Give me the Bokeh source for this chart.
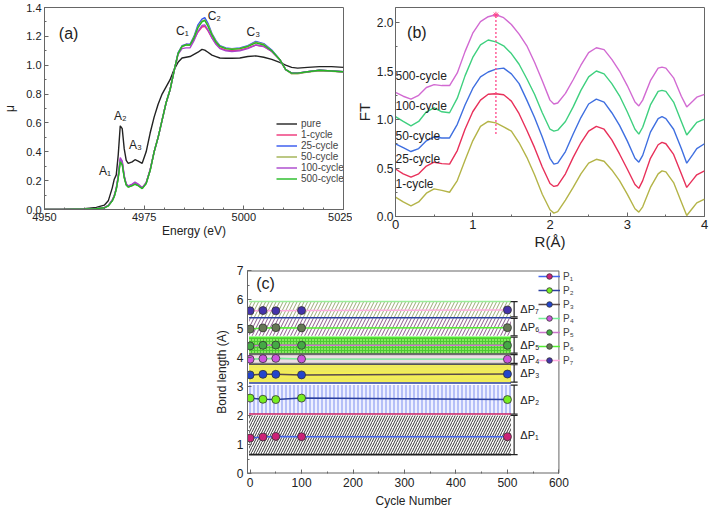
from bokeh.plotting import figure
from bokeh.layouts import column, row, Spacer
from bokeh.models import Legend, LegendItem, PrintfTickFormatter, FixedTicker
from bokeh.embed import file_html
from bokeh.resources import INLINE
from bokeh.core.properties import value

FONT = "Liberation Sans"

# ---------------- (a) XANES data ----------------
energy = [4950, 4955, 4960, 4963, 4965, 4966, 4967, 4967.5, 4968, 4968.5,
          4969, 4969.5, 4970, 4970.5, 4971, 4972, 4972.7, 4973.5, 4974.5, 4975.5,
          4976.5, 4977.5, 4978.5, 4979.5, 4980.5, 4981.5, 4982.5, 4983.5, 4984.5, 4985.5,
          4986.5, 4987.5, 4988.5, 4989.5, 4990.2, 4991, 4992, 4993, 4994, 4995.5,
          4997, 4999, 5001, 5003, 5005, 5007, 5009, 5010.5, 5012, 5013.5,
          5016, 5019, 5022, 5025]
mu_pure = [0.0, 0.002, 0.006, 0.015, 0.03, 0.06, 0.15, 0.21, 0.24, 0.38,
           0.58, 0.56, 0.42, 0.34, 0.32, 0.33, 0.345, 0.335, 0.32, 0.40,
           0.53, 0.64, 0.73, 0.80, 0.85, 0.90, 0.97, 1.02, 1.05, 1.055,
           1.06, 1.075, 1.09, 1.11, 1.105, 1.09, 1.07, 1.06, 1.05, 1.048,
           1.048, 1.05, 1.06, 1.065, 1.055, 1.04, 1.02, 1.0, 0.985, 0.98,
           0.985, 0.99, 0.99, 0.985]
mu_1 = [0.0, 0.001, 0.003, 0.006, 0.013, 0.027, 0.065, 0.095, 0.145, 0.23,
        0.35, 0.33, 0.23, 0.175, 0.16, 0.172, 0.185, 0.172, 0.15, 0.185,
        0.275, 0.40, 0.50, 0.62, 0.74, 0.83, 0.96, 1.08, 1.13, 1.145,
        1.14, 1.18, 1.23, 1.265, 1.27, 1.24, 1.19, 1.15, 1.12, 1.105,
        1.10, 1.105, 1.12, 1.14, 1.13, 1.095, 1.04, 0.97, 0.945, 0.945,
        0.955, 0.965, 0.96, 0.955]
mu_25 = [0.0, 0.001, 0.003, 0.006, 0.012, 0.026, 0.062, 0.092, 0.142, 0.225,
         0.34, 0.32, 0.225, 0.172, 0.157, 0.168, 0.18, 0.168, 0.147, 0.182,
         0.272, 0.40, 0.50, 0.62, 0.74, 0.83, 0.96, 1.085, 1.135, 1.145,
         1.145, 1.20, 1.28, 1.32, 1.33, 1.29, 1.22, 1.17, 1.135, 1.12,
         1.115, 1.12, 1.135, 1.165, 1.15, 1.105, 1.04, 0.97, 0.945, 0.945,
         0.955, 0.965, 0.96, 0.955]
mu_50 = [0.0, 0.001, 0.003, 0.006, 0.012, 0.025, 0.06, 0.09, 0.14, 0.22,
         0.335, 0.315, 0.222, 0.171, 0.156, 0.166, 0.177, 0.166, 0.146, 0.18,
         0.27, 0.40, 0.50, 0.62, 0.74, 0.83, 0.96, 1.08, 1.13, 1.14,
         1.14, 1.195, 1.265, 1.305, 1.315, 1.28, 1.215, 1.165, 1.132, 1.117,
         1.112, 1.117, 1.132, 1.16, 1.145, 1.10, 1.04, 0.97, 0.94, 0.94,
         0.952, 0.962, 0.958, 0.952]
mu_100 = [0.0, 0.001, 0.003, 0.006, 0.013, 0.028, 0.066, 0.097, 0.148, 0.235,
          0.36, 0.335, 0.235, 0.178, 0.163, 0.176, 0.19, 0.176, 0.152, 0.186,
          0.276, 0.40, 0.50, 0.62, 0.74, 0.83, 0.96, 1.075, 1.115, 1.12,
          1.12, 1.17, 1.235, 1.275, 1.28, 1.245, 1.19, 1.145, 1.115, 1.10,
          1.095, 1.10, 1.115, 1.14, 1.13, 1.095, 1.04, 0.97, 0.945, 0.945,
          0.955, 0.965, 0.96, 0.955]
mu_500 = [0.0, 0.001, 0.003, 0.006, 0.012, 0.025, 0.06, 0.09, 0.14, 0.22,
          0.33, 0.31, 0.22, 0.17, 0.155, 0.165, 0.175, 0.165, 0.145, 0.18,
          0.27, 0.40, 0.50, 0.62, 0.74, 0.83, 0.96, 1.08, 1.13, 1.14,
          1.14, 1.19, 1.26, 1.30, 1.31, 1.27, 1.21, 1.16, 1.13, 1.115,
          1.11, 1.115, 1.13, 1.155, 1.14, 1.10, 1.04, 0.97, 0.945, 0.945,
          0.955, 0.965, 0.96, 0.955]
xanes_names = ["pure", "1-cycle", "25-cycle", "50-cycle", "100-cycle", "500-cycle"]
xanes_colors = ["#222222", "#ee3377", "#3355ee", "#a0b050", "#aa44cc", "#22bb22"]
peak_labels = ["A\u2081", "A\u2082", "A\u2083", "C\u2081", "C\u2082", "C\u2083"]
peak_E = [4965.2, 4969.0, 4972.8, 4984.6, 4992.6, 5002.4]
peak_mu = [0.27, 0.65, 0.45, 1.24, 1.34, 1.23]

# ---------------- (b) FT data ----------------
R = [0.0, 0.1, 0.2, 0.3, 0.4, 0.5, 0.6, 0.7, 0.8, 0.9,
     1.0, 1.1, 1.2, 1.3, 1.4, 1.5, 1.6, 1.7, 1.8, 1.9,
     2.0, 2.05, 2.1, 2.2, 2.3, 2.4, 2.5, 2.6, 2.7, 2.8,
     2.9, 3.0, 3.1, 3.15, 3.2, 3.3, 3.4, 3.45, 3.5, 3.6,
     3.7, 3.77, 3.85, 3.9, 4.0]
ft_1 = [0.20, 0.15, 0.11, 0.15, 0.24, 0.285, 0.27, 0.25, 0.37, 0.58,
        0.78, 0.93, 0.98, 0.965, 0.925, 0.88, 0.76, 0.61, 0.43, 0.23,
        0.07, 0.035, 0.05, 0.17, 0.30, 0.44, 0.55, 0.59, 0.57, 0.48,
        0.37, 0.23, 0.08, 0.045, 0.10, 0.30, 0.44, 0.47, 0.46, 0.35,
        0.15, 0.01, 0.09, 0.14, 0.18]
ft_25 = [0.49, 0.44, 0.405, 0.44, 0.52, 0.56, 0.545, 0.54, 0.68, 0.90,
         1.08, 1.20, 1.26, 1.265, 1.255, 1.19, 1.06, 0.89, 0.71, 0.51,
         0.34, 0.31, 0.32, 0.44, 0.61, 0.76, 0.88, 0.93, 0.90, 0.79,
         0.645, 0.49, 0.33, 0.29, 0.37, 0.60, 0.74, 0.765, 0.75, 0.64,
         0.44, 0.30, 0.38, 0.43, 0.47]
ft_50 = [0.75, 0.71, 0.67, 0.70, 0.78, 0.82, 0.81, 0.81, 0.95, 1.15,
         1.32, 1.44, 1.49, 1.52, 1.53, 1.47, 1.37, 1.20, 1.02, 0.82,
         0.60, 0.54, 0.55, 0.67, 0.85, 1.02, 1.16, 1.21, 1.18, 1.07,
         0.94, 0.78, 0.60, 0.56, 0.63, 0.87, 1.01, 1.03, 1.01, 0.90,
         0.70, 0.55, 0.64, 0.70, 0.75]
ft_100 = [1.03, 0.98, 0.935, 0.98, 1.08, 1.12, 1.08, 1.07, 1.22, 1.45,
          1.64, 1.77, 1.82, 1.80, 1.76, 1.68, 1.57, 1.42, 1.26, 1.07,
          0.90, 0.88, 0.89, 0.98, 1.13, 1.30, 1.44, 1.50, 1.47, 1.37,
          1.245, 1.08, 0.90, 0.85, 0.92, 1.15, 1.29, 1.30, 1.29, 1.18,
          0.98, 0.84, 0.92, 0.97, 1.005]
ft_500 = [1.28, 1.24, 1.21, 1.25, 1.33, 1.36, 1.35, 1.35, 1.48, 1.70,
          1.89, 2.01, 2.06, 2.08, 2.05, 1.98, 1.88, 1.76, 1.59, 1.40,
          1.20, 1.16, 1.17, 1.27, 1.41, 1.56, 1.69, 1.74, 1.72, 1.62,
          1.50, 1.35, 1.18, 1.14, 1.20, 1.40, 1.53, 1.54, 1.53, 1.43,
          1.24, 1.13, 1.19, 1.23, 1.26]
ft_names = ["1-cycle", "25-cycle", "50-cycle", "100-cycle", "500-cycle"]
ft_colors = ["#b4b448", "#e8305a", "#3f6fe0", "#3fd07f", "#d26ad2"]
ft_label_y = [0.34, 0.59, 0.83, 1.14, 1.45]
peak_R = 1.3
peak_ft_lo = 0.85
peak_ft_hi = 2.08

# ---------------- (c) bond length data ----------------
cycles = [0, 25, 50, 100, 500]
P1 = [1.22, 1.26, 1.28, 1.27, 1.27]
P2 = [2.60, 2.56, 2.55, 2.60, 2.55]
P3 = [3.40, 3.42, 3.42, 3.40, 3.43]
P4 = [3.94, 3.96, 3.97, 3.95, 3.94]
P5 = [4.40, 4.42, 4.43, 4.42, 4.42]
P6 = [4.98, 5.02, 5.03, 5.02, 5.03]
P7 = [5.61, 5.62, 5.61, 5.62, 5.64]
p_names = ["P\u2081", "P\u2082", "P\u2083", "P\u2084", "P\u2085", "P\u2086", "P\u2087"]
p_line_colors = ["#4466ee", "#2a3f9e", "#5a4a4a", "#77ee99", "#cc77cc", "#55ee33", "#ffaadd"]
p_fill_colors = ["#cc2277", "#77ee22", "#2244cc", "#cc55dd", "#44aa44", "#667755", "#4433aa"]
band_lo = [0.65, 2.05, 3.15, 3.80, 4.15, 4.75, 5.40]
band_hi = [2.00, 3.05, 3.75, 4.10, 4.70, 5.35, 5.93]
band_names = ["\u0394P\u2081", "\u0394P\u2082", "\u0394P\u2083", "\u0394P\u2084",
              "\u0394P\u2085", "\u0394P\u2086", "\u0394P\u2087"]
edge_y = [0.65, 2.05, 3.12, 3.77, 4.12, 4.70, 5.37, 5.93]
edge_colors = ["#222222", "#cc2266", "#2a3f9e", "#555555", "#444444", "#55ee33", "#2a3f9e", "#99ee99"]


def style(p, tick_size="11px", label_size="12px"):
    p.outline_line_color = "#666666"
    p.grid.visible = False
    p.background_fill_color = "white"
    p.border_fill_color = "white"
    for ax in p.axis:
        ax.axis_line_color = "#666666"
        ax.major_tick_line_color = "#666666"
        ax.minor_tick_line_color = "#666666"
        ax.major_tick_in = 4
        ax.major_tick_out = 0
        ax.minor_tick_in = 2
        ax.minor_tick_out = 0
        ax.major_label_text_font = FONT
        ax.major_label_text_font_size = tick_size
        ax.major_label_text_color = "#222222"
        ax.axis_label_text_font = FONT
        ax.axis_label_text_font_size = label_size
        ax.axis_label_text_font_style = "normal"
        ax.axis_label_text_color = "#222222"
        ax.major_label_standoff = 3
        ax.axis_label_standoff = 2


# ---------------- panel (a) ----------------
pa = figure(width=352, height=245, x_range=(4950, 5025), y_range=(0, 1.4),
            output_backend="svg", toolbar_location=None,
            min_border_left=35, min_border_right=9, min_border_top=7, min_border_bottom=32,
            x_axis_label="Energy (eV)", y_axis_label="\u03bc")
style(pa)
pa.yaxis.axis_label_standoff = 6
pa.xaxis.axis_label_standoff = 0
pa.xaxis.ticker = FixedTicker(ticks=[4950, 4975, 5000, 5025],
                              minor_ticks=list(range(4950, 5026, 5)))
pa.yaxis.ticker = FixedTicker(ticks=[0, 0.2, 0.4, 0.6, 0.8, 1.0, 1.2, 1.4],
                              minor_ticks=[i / 10 for i in range(15)])
pa.yaxis.formatter = PrintfTickFormatter(format="%.1f")
items = []
for name, col, ys in zip(xanes_names, xanes_colors, [mu_pure, mu_1, mu_25, mu_50, mu_100, mu_500]):
    r = pa.line(energy, ys, line_color=col, line_width=1.4)
    items.append(LegendItem(label=name, renderers=[r]))
leg = Legend(items=items, location=(232, 25), label_text_font=FONT, label_text_font_size="10px",
             glyph_width=21, glyph_height=11, label_height=11, spacing=0, padding=0, margin=0,
             border_line_color=None, background_fill_alpha=0, label_standoff=4)
pa.add_layout(leg)
pa.text(x=peak_E, y=peak_mu, text=peak_labels, text_font=value(FONT), text_font_size="12px",
        text_align="center", text_baseline="middle", text_color="#222222")
pa.text(x=[4953.6], y=[1.22], text=["(a)"], text_font=value(FONT), text_font_size="16px",
        text_align="left", text_baseline="middle", text_color="#222222")

# ---------------- panel (b) ----------------
pb = figure(width=359, height=252, x_range=(0, 4), y_range=(0, 2.155),
            output_backend="svg", toolbar_location=None,
            min_border_left=40, min_border_right=7, min_border_top=7, min_border_bottom=36,
            x_axis_label="R(\u00c5)", y_axis_label="FT")
style(pb, tick_size="13px", label_size="15px")
pb.yaxis.major_label_text_font_size = "12px"
pb.yaxis.major_label_standoff = 2
pb.yaxis.axis_label_standoff = 1
pb.xaxis.axis_label_standoff = 1
pb.xaxis.ticker = FixedTicker(ticks=[0, 1, 2, 3, 4], minor_ticks=[i / 2 for i in range(9)])
pb.yaxis.ticker = FixedTicker(ticks=[0, 0.5, 1.0, 1.5, 2.0], minor_ticks=[i / 4 for i in range(9)])
pb.yaxis.formatter = PrintfTickFormatter(format="%.1f")
for col, ys in zip(ft_colors, [ft_1, ft_25, ft_50, ft_100, ft_500]):
    pb.line(R, ys, line_color=col, line_width=1.4)
pb.segment(x0=[peak_R], y0=[peak_ft_lo], x1=[peak_R], y1=[peak_ft_hi],
           line_color="#ff4488", line_width=1.3, line_dash="2 2")
pb.scatter(x=[peak_R], y=[peak_ft_hi], marker="asterisk", size=6, line_color="#ff4488")
pb.text(x=[0.0] * 5, y=ft_label_y, text=ft_names, text_font=value(FONT), text_font_size="12px",
        text_align="left", text_baseline="middle", text_color="#222222")
pb.text(x=[0.15], y=[1.9], text=["(b)"], text_font=value(FONT), text_font_size="16px",
        text_align="left", text_baseline="middle", text_color="#222222")

# ---------------- panel (c) ----------------
# frame extends past 600 so the legend (which straddles the plot border) is not clipped;
# the visible plot box is drawn up to x = 600
pc = figure(width=382, height=258, x_range=(-5, 640), y_range=(0, 7),
            output_backend="svg", toolbar_location=None,
            min_border_left=40, min_border_right=10, min_border_top=18, min_border_bottom=34,
            x_axis_label="Cycle Number", y_axis_label="Bond length (A)")
style(pc, tick_size="12px", label_size="12px")
pc.xaxis.major_label_standoff = 4
pc.xaxis.axis_label_standoff = 4
pc.yaxis.major_label_standoff = 4
pc.yaxis.axis_label_standoff = 5
pc.outline_line_color = None
pc.xaxis.axis_line_color = None
pc.xaxis.ticker = FixedTicker(ticks=[0, 100, 200, 300, 400, 500, 600],
                              minor_ticks=list(range(0, 601, 50)))
pc.yaxis.ticker = FixedTicker(ticks=list(range(8)), minor_ticks=[i / 2 for i in range(15)])
x_lo, x_hi = -5, 600
y_lo, y_hi = 0, 7
pc.segment(x0=[x_lo, x_lo, x_hi], y0=[y_lo, y_hi, y_lo], x1=[x_hi, x_hi, x_hi], y1=[y_lo, y_hi, y_hi],
           line_color="#666666", line_width=[2, 2, 1])

band_fill = ["white", "#eef0ff", "#f3ee55", "#eedde4", "#86e85e", "white", "white"]
band_hatch = ["/", "|", "-", "-", "+", "/", "/"]
band_hatch_col = ["#333333", "#7d8ff0", "#e9e46a", "#bbbbbb", "#4cc832", "#8a5a8a", "#9aaa77"]
band_scale = [5, 4, 4, 4, 3, 7, 7]
for lo, hi, f, h, hc, s in zip(band_lo, band_hi, band_fill, band_hatch, band_hatch_col, band_scale):
    pc.quad(left=-2, right=507, bottom=lo, top=hi, fill_color=f, line_color=None,
            hatch_pattern=h, hatch_color=hc, hatch_scale=s, hatch_weight=1.0)
for y, c in zip(edge_y, edge_colors):
    pc.segment(x0=-2, y0=y, x1=507, y1=y, line_color=c, line_width=1.6)

leg_items = []
for name, lc, fc, ys in zip(p_names, p_line_colors, p_fill_colors, [P1, P2, P3, P4, P5, P6, P7]):
    rl = pc.line(cycles, ys, line_color=lc, line_width=1.5)
    rs = pc.scatter(cycles, ys, size=8, fill_color=fc, line_color="#333333", line_width=0.8)
    leg_items.append(LegendItem(label=name, renderers=[rl, rs]))

mid = [(a + b) / 2 for a, b in zip(band_lo, band_hi)]
pc.segment(x0=[513] * 7, y0=band_lo, x1=[513] * 7, y1=band_hi, line_color="#222222", line_width=1.2)
pc.scatter(x=[513] * 14, y=band_lo + band_hi, marker="dash", size=7, line_color="#222222", line_width=1.2)
pc.text(x=[525] * 7, y=mid, text=band_names, text_font=value(FONT), text_font_size="11px",
        text_align="left", text_baseline="middle", text_color="#222222")
pc.text(x=[12], y=[6.55], text=["(c)"], text_font=value(FONT), text_font_size="16px",
        text_align="left", text_baseline="middle", text_color="#222222")

leg_c = Legend(items=leg_items, location=(291, 106), label_text_font=FONT, label_text_font_size="10px",
               glyph_width=22, glyph_height=14, label_height=14, spacing=0, padding=0, margin=0,
               border_line_color=None, background_fill_alpha=0, label_standoff=3)
pc.add_layout(leg_c)

layout = column(row(pa, pb), row(Spacer(width=207, height=10), pc))
open("out.html", "w").write(file_html(layout, INLINE))
